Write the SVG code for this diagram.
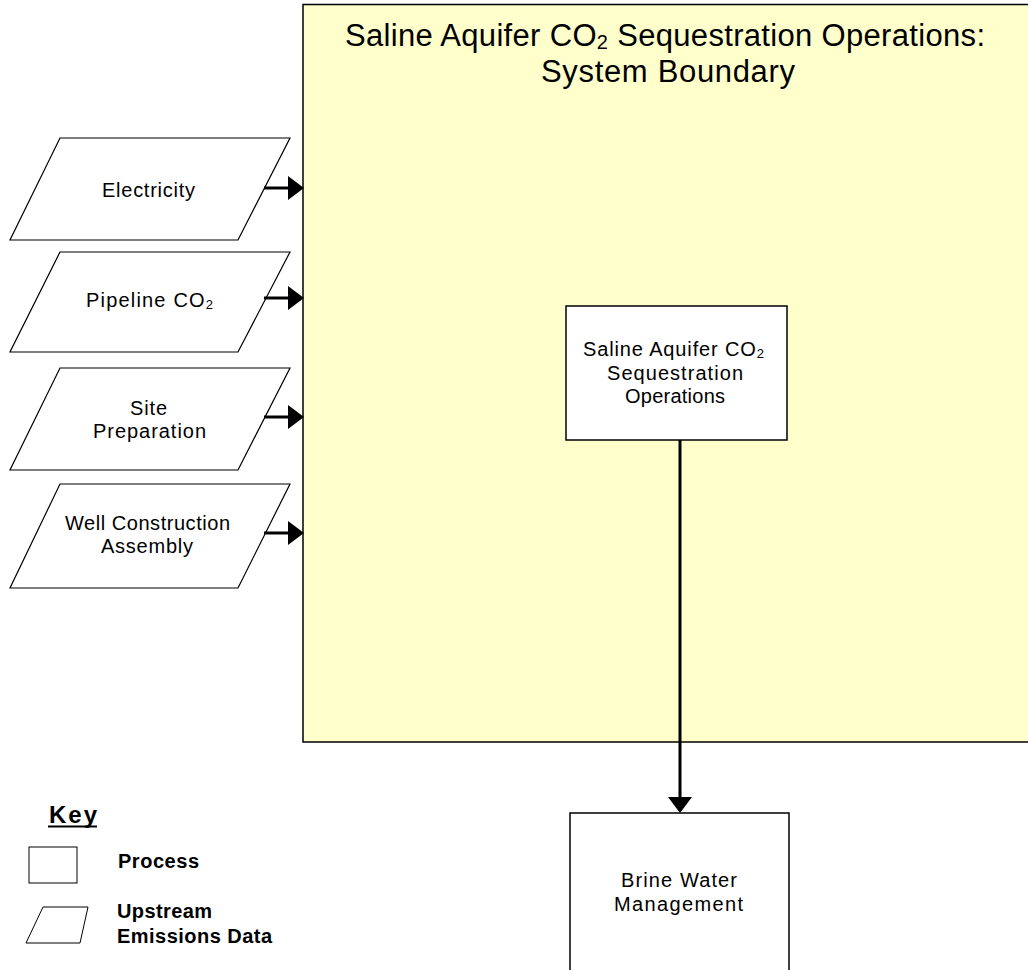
<svg xmlns="http://www.w3.org/2000/svg" width="1028" height="970" viewBox="0 0 1028 970">
<defs>
<style>
.t{font-family:"Liberation Sans",Arial,sans-serif;fill:#000;}
.n{font-size:20px;}
.ti{font-size:31px;}
.k{font-weight:bold;}
.box{fill:#fff;stroke:#000;stroke-width:1.5;}
.pg{fill:#fff;stroke:#000;stroke-width:1.2;}
.conn{stroke:#000;stroke-width:3;fill:none;}
</style>
<marker id="ah" markerUnits="userSpaceOnUse" markerWidth="17" markerHeight="26" refX="0" refY="12" orient="auto" viewBox="0 0 17 24">
<path d="M0,0 L16,12 L0,24 z" fill="#000"/>
</marker>
</defs>
<rect width="1028" height="970" fill="#fff"/>
<g id="boundary">
<rect x="303" y="4.5" width="740" height="737.5" fill="#FFFFCC" stroke="#000" stroke-width="1.5"/>
<text class="t ti" x="665" y="46" text-anchor="middle" textLength="640" lengthAdjust="spacing">Saline Aquifer CO<tspan font-size="20" dy="3">2</tspan><tspan dy="-3"> Sequestration Operations:</tspan></text>
<text class="t ti" x="668" y="82" text-anchor="middle" textLength="254" lengthAdjust="spacing">System Boundary</text>
</g>
<g id="electricity">
<polygon class="pg" points="60,138 290,138 238,240 10,240"/>
<text class="t n" x="148.5" y="197" text-anchor="middle" textLength="93" lengthAdjust="spacing">Electricity</text>
</g>
<g id="pipeline">
<polygon class="pg" points="60,252 290,252 238,352 10,352"/>
<text class="t n" x="149.5" y="307" text-anchor="middle" textLength="127" lengthAdjust="spacing">Pipeline CO<tspan font-size="13" dy="2">2</tspan></text>
</g>
<g id="site">
<polygon class="pg" points="60,368 290,368 238,470 10,470"/>
<text class="t n" x="148.5" y="415" text-anchor="middle" textLength="37" lengthAdjust="spacing">Site</text>
<text class="t n" x="149.5" y="438" text-anchor="middle" textLength="113" lengthAdjust="spacing">Preparation</text>
</g>
<g id="well">
<polygon class="pg" points="60,484 290,484 238,588 10,588"/>
<text class="t n" x="147.5" y="530" text-anchor="middle" textLength="165" lengthAdjust="spacing">Well Construction</text>
<text class="t n" x="147" y="553" text-anchor="middle" textLength="92" lengthAdjust="spacing">Assembly</text>
</g>
<g id="sequestration">
<rect class="box" x="566" y="306" width="221" height="134"/>
<text class="t n" x="673.5" y="356" text-anchor="middle" textLength="181" lengthAdjust="spacing">Saline Aquifer CO<tspan font-size="13" dy="2">2</tspan></text>
<text class="t n" x="675" y="380" text-anchor="middle" textLength="136" lengthAdjust="spacing">Sequestration</text>
<text class="t n" x="675" y="403" text-anchor="middle" textLength="100" lengthAdjust="spacing">Operations</text>
</g>
<g id="brine">
<rect class="box" x="570" y="813" width="219" height="170"/>
<text class="t n" x="679" y="887" text-anchor="middle" textLength="116" lengthAdjust="spacing">Brine Water</text>
<text class="t n" x="678.5" y="911" text-anchor="middle" textLength="129" lengthAdjust="spacing">Management</text>
</g>
<g id="connectors">
<line class="conn" x1="264" y1="188" x2="288" y2="188" marker-end="url(#ah)"/>
<line class="conn" x1="264" y1="298" x2="288" y2="298" marker-end="url(#ah)"/>
<line class="conn" x1="264" y1="417" x2="288" y2="417" marker-end="url(#ah)"/>
<line class="conn" x1="264" y1="533" x2="288" y2="533" marker-end="url(#ah)"/>
<line class="conn" x1="680" y1="440" x2="680" y2="797" marker-end="url(#ah)"/>
</g>
<g id="key">
<text class="t k" x="49" y="823" font-size="24" textLength="48" lengthAdjust="spacing">Key</text>
<line x1="48" y1="826.5" x2="97" y2="826.5" stroke="#000" stroke-width="2"/>
<rect x="29" y="847" width="48" height="36" fill="#fff" stroke="#000" stroke-width="1"/>
<text class="t k" x="118" y="868" font-size="20" textLength="81" lengthAdjust="spacing">Process</text>
<polygon points="43,907 88,907 80,943 26,943" fill="#fff" stroke="#000" stroke-width="1"/>
<text class="t k" x="117" y="918" font-size="20" textLength="95" lengthAdjust="spacing">Upstream</text>
<text class="t k" x="117" y="943" font-size="20" textLength="155" lengthAdjust="spacing">Emissions Data</text>
</g>
</svg>
